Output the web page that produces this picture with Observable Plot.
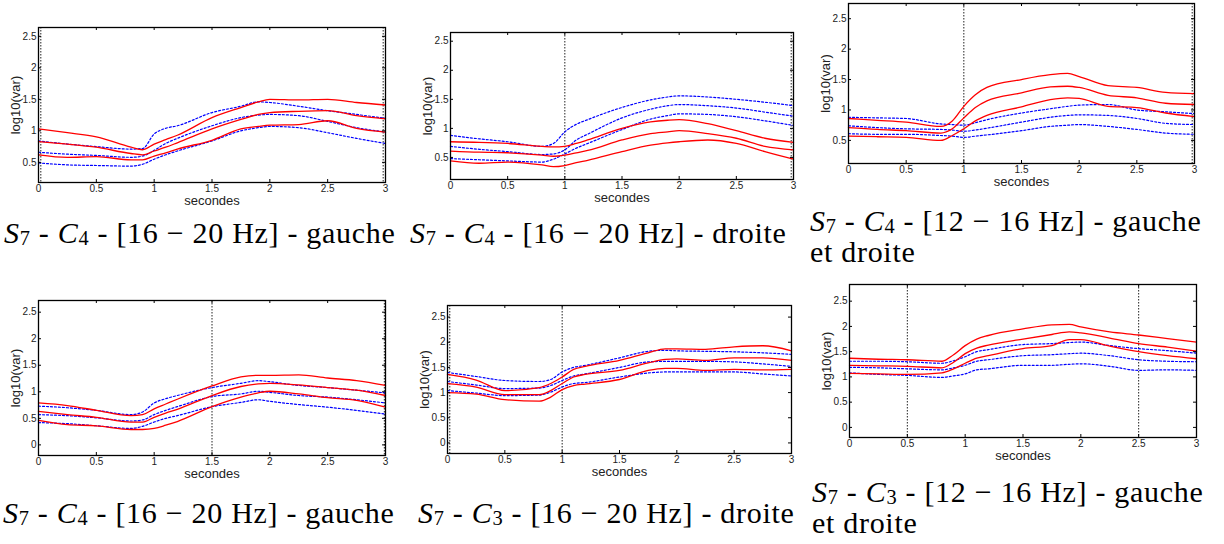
<!DOCTYPE html>
<html><head><meta charset="utf-8">
<script src="https://cdn.jsdelivr.net/npm/d3@7"></script>
<script src="https://cdn.jsdelivr.net/npm/@observablehq/plot@0.6"></script>
<style>
html,body{margin:0;padding:0;background:#fff}
body{width:1224px;height:544px;position:relative;overflow:hidden}
.panel{position:absolute}
.cap{position:absolute;font-family:"Liberation Serif","Times New Roman",serif;font-size:30px;line-height:31px;white-space:nowrap;color:#000;letter-spacing:0.7px}
.cap sub{font-size:0.68em;line-height:0;vertical-align:-0.12em}
</style></head>
<body>
<script>
// time grid (seconds)
const time = [0, 0.25, 0.5, 0.8, 0.9, 1, 1.1, 1.2, 1.5, 1.75, 1.9, 2, 2.25, 2.5, 2.75, 3];
const xTicks = [0, 0.5, 1, 1.5, 2, 2.5, 3];
const yTicksHigh = [0.5, 1, 1.5, 2, 2.5];
const yTicksFull = [0, 0.5, 1, 1.5, 2, 2.5];

// Panel 1: S7 - C4 - [16-20 Hz] - gauche
const p1Red1 = [1.03, 0.97, 0.905, 0.74, 0.70, 0.79, 0.86, 0.93, 1.21, 1.37, 1.46, 1.5, 1.49, 1.5, 1.45, 1.41];
const p1Red2 = [0.83, 0.79, 0.74, 0.64, 0.62, 0.68, 0.74, 0.81, 1.03, 1.18, 1.26, 1.29, 1.31, 1.32, 1.24, 1.19];
const p1Red3 = [0.62, 0.58, 0.59, 0.54, 0.54, 0.6, 0.65, 0.71, 0.85, 1.03, 1.07, 1.09, 1.10, 1.16, 1.04, 0.98];
const p1Blue1 = [0.84, 0.79, 0.75, 0.71, 0.72, 0.95, 1.04, 1.08, 1.29, 1.39, 1.46, 1.45, 1.39, 1.32, 1.26, 1.2];
const p1Blue2 = [0.66, 0.63, 0.61, 0.58, 0.6, 0.69, 0.8, 0.88, 1.08, 1.21, 1.25, 1.26, 1.24, 1.15, 1.05, 0.98];
const p1Blue3 = [0.49, 0.46, 0.45, 0.44, 0.47, 0.55, 0.62, 0.68, 0.84, 1.0, 1.05, 1.07, 1.05, 0.97, 0.88, 0.8];
const p1Markers = [0.02, 2.98];

// Panel 2: S7 - C4 - [16-20 Hz] - droite
const p2Red1 = [0.77, 0.76, 0.74, 0.69, 0.68, 0.69, 0.74, 0.80, 1.0, 1.11, 1.14, 1.15, 1.08, 0.96, 0.83, 0.76];
const p2Red2 = [0.61, 0.59, 0.58, 0.54, 0.52, 0.54, 0.58, 0.62, 0.8, 0.91, 0.94, 0.96, 0.91, 0.83, 0.69, 0.63];
const p2Red3 = [0.44, 0.40, 0.42, 0.37, 0.34, 0.36, 0.41, 0.45, 0.6, 0.71, 0.75, 0.77, 0.8, 0.74, 0.6, 0.47];
const p2Blue1 = [0.88, 0.82, 0.77, 0.69, 0.74, 0.94, 1.07, 1.15, 1.36, 1.49, 1.54, 1.56, 1.54, 1.5, 1.45, 1.39];
const p2Blue2 = [0.69, 0.64, 0.6, 0.55, 0.56, 0.63, 0.8, 0.9, 1.18, 1.33, 1.39, 1.41, 1.39, 1.35, 1.28, 1.21];
const p2Blue3 = [0.48, 0.46, 0.44, 0.42, 0.47, 0.56, 0.66, 0.74, 0.98, 1.16, 1.22, 1.25, 1.24, 1.2, 1.13, 1.05];
const p2Markers = [1, 2.98];

// Panel 3: S7 - C4 - [12-16 Hz] - gauche et droite
const p3Red1 = [0.86, 0.83, 0.80, 0.73, 0.82, 1.06, 1.25, 1.37, 1.50, 1.58, 1.60, 1.55, 1.40, 1.37, 1.29, 1.27];
const p3Red2 = [0.71, 0.68, 0.66, 0.62, 0.69, 0.87, 1.04, 1.15, 1.28, 1.38, 1.39, 1.37, 1.24, 1.2, 1.11, 1.09];
const p3Red3 = [0.57, 0.56, 0.55, 0.5, 0.58, 0.69, 0.82, 0.91, 1.05, 1.17, 1.2, 1.19, 1.06, 1.04, 0.95, 0.89];
const p3Blue1 = [0.88, 0.87, 0.86, 0.77, 0.76, 0.75, 0.79, 0.84, 0.95, 1.02, 1.06, 1.08, 1.09, 1.0, 0.97, 0.94];
const p3Blue2 = [0.74, 0.71, 0.69, 0.68, 0.67, 0.65, 0.67, 0.70, 0.8, 0.88, 0.91, 0.92, 0.91, 0.86, 0.78, 0.76];
const p3Blue3 = [0.61, 0.6, 0.60, 0.58, 0.57, 0.55, 0.57, 0.59, 0.66, 0.73, 0.75, 0.76, 0.73, 0.68, 0.62, 0.6];
const p3Markers = [1, 2.98];

// Panel 4: S7 - C4 - [16-20 Hz] - gauche
const p4Red1 = [0.79, 0.74, 0.65, 0.55, 0.57, 0.68, 0.77, 0.86, 1.11, 1.28, 1.31, 1.31, 1.32, 1.26, 1.21, 1.12];
const p4Red2 = [0.63, 0.57, 0.52, 0.43, 0.43, 0.52, 0.6, 0.67, 0.93, 1.1, 1.15, 1.16, 1.13, 1.08, 1.03, 0.93];
const p4Red3 = [0.46, 0.38, 0.36, 0.29, 0.29, 0.31, 0.37, 0.44, 0.72, 0.9, 0.98, 1.01, 0.96, 0.89, 0.84, 0.71];
const p4Blue1 = [0.73, 0.70, 0.65, 0.57, 0.62, 0.79, 0.87, 0.93, 1.08, 1.16, 1.21, 1.19, 1.12, 1.08, 1.03, 0.98];
const p4Blue2 = [0.57, 0.55, 0.51, 0.45, 0.47, 0.57, 0.65, 0.72, 0.91, 0.96, 1.01, 0.99, 0.93, 0.9, 0.85, 0.79];
const p4Blue3 = [0.42, 0.40, 0.36, 0.31, 0.35, 0.43, 0.5, 0.55, 0.72, 0.8, 0.85, 0.82, 0.76, 0.71, 0.65, 0.58];
const p4Markers = [1.5, 2.99];

// Panel 5: S7 - C3 - [16-20 Hz] - droite
const p5Red1 = [1.36, 1.25, 1.04, 1.1, 1.18, 1.31, 1.46, 1.52, 1.64, 1.79, 1.87, 1.87, 1.86, 1.91, 1.93, 1.83];
const p5Red2 = [1.18, 1.11, 0.96, 0.96, 1.04, 1.18, 1.31, 1.36, 1.44, 1.59, 1.66, 1.67, 1.64, 1.69, 1.69, 1.64];
const p5Red3 = [1.0, 0.97, 0.86, 0.83, 0.91, 1.06, 1.14, 1.17, 1.26, 1.44, 1.48, 1.48, 1.44, 1.46, 1.45, 1.46];
const p5Blue1 = [1.4, 1.32, 1.24, 1.22, 1.26, 1.41, 1.5, 1.54, 1.69, 1.82, 1.84, 1.83, 1.82, 1.81, 1.79, 1.76];
const p5Blue2 = [1.22, 1.15, 1.08, 1.09, 1.14, 1.24, 1.33, 1.37, 1.5, 1.61, 1.62, 1.62, 1.62, 1.61, 1.57, 1.52];
const p5Blue3 = [1.04, 0.99, 0.94, 0.95, 1.01, 1.11, 1.18, 1.2, 1.31, 1.39, 1.41, 1.41, 1.41, 1.41, 1.37, 1.33];
const p5Markers = [0.02, 1];

// Panel 6: S7 - C3 - [12-16 Hz] - gauche et droite
const p6Red1 = [1.37, 1.35, 1.34, 1.31, 1.44, 1.62, 1.75, 1.82, 1.95, 2.03, 2.04, 1.99, 1.89, 1.83, 1.76, 1.69];
const p6Red2 = [1.23, 1.22, 1.21, 1.18, 1.29, 1.46, 1.57, 1.63, 1.75, 1.84, 1.89, 1.87, 1.77, 1.66, 1.59, 1.51];
const p6Red3 = [1.07, 1.06, 1.05, 1.08, 1.16, 1.27, 1.37, 1.42, 1.56, 1.62, 1.74, 1.74, 1.61, 1.5, 1.42, 1.36];
const p6Blue1 = [1.31, 1.31, 1.3, 1.27, 1.32, 1.4, 1.5, 1.54, 1.64, 1.66, 1.68, 1.69, 1.62, 1.56, 1.52, 1.47];
const p6Blue2 = [1.19, 1.18, 1.16, 1.14, 1.18, 1.23, 1.31, 1.34, 1.42, 1.44, 1.46, 1.47, 1.42, 1.34, 1.31, 1.3];
const p6Blue3 = [1.08, 1.05, 1.03, 0.99, 1.02, 1.06, 1.14, 1.16, 1.23, 1.23, 1.25, 1.26, 1.21, 1.13, 1.14, 1.13];
const p6Markers = [0.5, 2.5];

// caption pieces
const subjects = ["7", "7", "7", "7", "7", "7"];
const electrodes = ["4", "4", "4", "4", "3", "3"];
const bandLow = ["16", "16", "12", "16", "16", "12"];
const bandHigh = ["20", "20", "16", "20", "20", "16"];
const sides = [["gauche"], ["droite"], ["gauche", "et droite"], ["gauche"], ["droite"], ["gauche", "et droite"]];

const panels = [
  {frame: [38, 385, 27, 182], yDomain: [0.18, 2.64], yTicks: yTicksHigh, markers: p1Markers,
   red: [p1Red1, p1Red2, p1Red3], blue: [p1Blue1, p1Blue2, p1Blue3], cap: [4, 217]},
  {frame: [450, 793, 32, 179], yDomain: [0.12, 2.65], yTicks: yTicksHigh, markers: p2Markers,
   red: [p2Red1, p2Red2, p2Red3], blue: [p2Blue1, p2Blue2, p2Blue3], cap: [410, 217]},
  {frame: [848, 1194, 3, 163], yDomain: [0.12, 2.75], yTicks: yTicksHigh, markers: p3Markers,
   red: [p3Red1, p3Red2, p3Red3], blue: [p3Blue1, p3Blue2, p3Blue3], cap: [810, 205]},
  {frame: [38, 385, 300, 455], yDomain: [-0.2, 2.72], yTicks: yTicksFull, markers: p4Markers,
   red: [p4Red1, p4Red2, p4Red3], blue: [p4Blue1, p4Blue2, p4Blue3], cap: [3, 497]},
  {frame: [447, 791, 305, 453], yDomain: [-0.21, 2.73], yTicks: yTicksFull, markers: p5Markers,
   red: [p5Red1, p5Red2, p5Red3], blue: [p5Blue1, p5Blue2, p5Blue3], cap: [418, 497]},
  {frame: [849, 1196, 284, 437], yDomain: [-0.2, 2.83], yTicks: yTicksFull, markers: p6Markers,
   red: [p6Red1, p6Red2, p6Red3], blue: [p6Blue1, p6Blue2, p6Blue3], cap: [812, 476]}
];

const mL = 40, mR = 14, mT = 8, mB = 34;

panels.forEach((cfg, idx) => {
  const [fl, fr, ft, fb] = cfg.frame;
  const pw = fr - fl, ph = fb - ft;
  const rows = (list) => list.flatMap((ys, k) => time.map((t, i) => ({t, v: ys[i], k})));
  const svg = Plot.plot({
    width: pw + mL + mR,
    height: ph + mT + mB,
    marginLeft: mL, marginRight: mR, marginTop: mT, marginBottom: mB,
    style: {fontFamily: "'Liberation Sans', Arial, sans-serif", fontSize: "10px", color: "#222", background: "transparent", overflow: "visible"},
    x: {domain: [0, 3]},
    y: {domain: cfg.yDomain},
    marks: [
      Plot.ruleX(cfg.markers, {x: d => d, stroke: "#222", strokeWidth: 1, strokeDasharray: "1.5,1.5"}),
      Plot.line(rows(cfg.blue), {x: "t", y: "v", z: "k", stroke: "#0000ff", strokeWidth: 1.2, strokeDasharray: "2,2", curve: "monotone-x"}),
      Plot.line(rows(cfg.red), {x: "t", y: "v", z: "k", stroke: "#ff0000", strokeWidth: 1.3, curve: "monotone-x"}),
      Plot.axisX(xTicks, {tickSize: 0, tickPadding: 2, label: null, fontSize: 10, tickFormat: d => String(d)}),
      Plot.axisY(cfg.yTicks, {tickSize: 0, tickPadding: 2, label: null, fontSize: 10, tickFormat: d => String(d)}),
      Plot.ruleX(xTicks, {x: d => d, insetTop: ph - 3, stroke: "#000"}),
      Plot.ruleX(xTicks, {x: d => d, insetBottom: ph - 3, stroke: "#000"}),
      Plot.ruleY(cfg.yTicks, {y: d => d, insetRight: pw - 3, stroke: "#000"}),
      Plot.ruleY(cfg.yTicks, {y: d => d, insetLeft: pw - 3, stroke: "#000"}),
      Plot.frame({stroke: "#000", strokeWidth: 1.3}),
      Plot.text(["secondes"], {text: d => d, frameAnchor: "bottom", lineAnchor: "middle", textAnchor: "middle", dy: 18, fontSize: 13, fill: "#222"}),
      Plot.text(["log10(var)"], {text: d => d, frameAnchor: "left", lineAnchor: "middle", textAnchor: "middle", dx: -23, rotate: -90, fontSize: 13, fill: "#222"})
    ]
  });
  const div = document.createElement("div");
  div.className = "panel";
  div.style.left = (fl - mL) + "px";
  div.style.top = (ft - mT) + "px";
  div.appendChild(svg);
  document.body.appendChild(div);

  const cap = document.createElement("div");
  cap.className = "cap";
  cap.style.left = cfg.cap[0] + "px";
  cap.style.top = cfg.cap[1] + "px";
  const lines = sides[idx];
  cap.innerHTML = `<i>S</i><sub>${subjects[idx]}</sub> - <i>C</i><sub>${electrodes[idx]}</sub> - [${bandLow[idx]} − ${bandHigh[idx]} Hz] - ${lines[0]}` +
    (lines.length > 1 ? `<br>${lines[1]}` : "");
  document.body.appendChild(cap);
});
</script>
</body></html>
